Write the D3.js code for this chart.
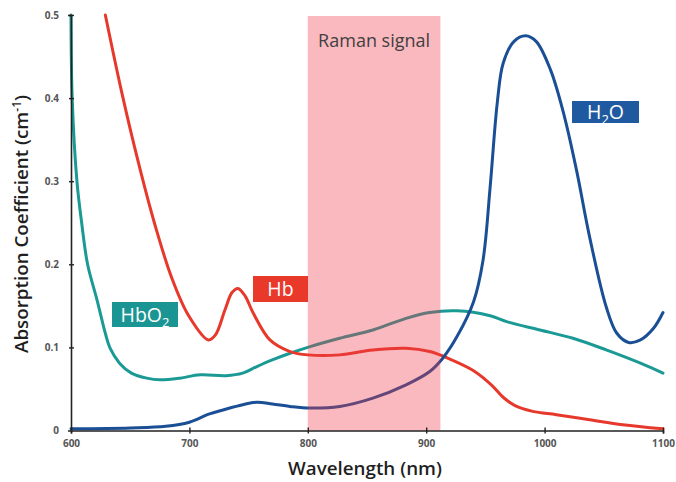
<!DOCTYPE html>
<html>
<head>
<meta charset="utf-8">
<script src="https://cdn.jsdelivr.net/npm/d3@7"></script>
<style>
  html, body { margin: 0; padding: 0; background: #fff; }
  svg { display: block; }
  text { font-family: "Open Sans", Lato, sans-serif; }
</style>
</head>
<body>
<svg id="chart" width="676" height="482"></svg>
<script>
// Absorption spectra (wavelength in nm, absorption coefficient in cm^-1)
const hbo2Wavelength = [600, 601, 605, 609, 614, 622, 629, 633, 641, 651, 664, 675, 692, 709, 731, 745, 757, 770, 785, 802, 827, 855, 883, 903, 926, 954, 968, 996, 1024, 1052, 1081, 1100];
const hbo2Absorption = [0.5, 0.4, 0.3, 0.25, 0.2, 0.157, 0.117, 0.099, 0.081, 0.069, 0.063, 0.061, 0.063, 0.067, 0.066, 0.069, 0.077, 0.085, 0.093, 0.101, 0.111, 0.121, 0.135, 0.142, 0.144, 0.138, 0.131, 0.121, 0.111, 0.097, 0.081, 0.069];

const hbWavelength = [629, 643, 657, 671, 685, 699, 716, 722, 730, 736, 741, 747, 754, 768, 785, 800, 827, 855, 883, 903, 920, 940, 955, 965, 975, 990, 1010, 1038, 1066, 1100];
const hbAbsorption = [0.5, 0.406, 0.322, 0.247, 0.184, 0.139, 0.109, 0.115, 0.145, 0.166, 0.171, 0.162, 0.141, 0.109, 0.095, 0.091, 0.091, 0.097, 0.099, 0.095, 0.086, 0.072, 0.055, 0.040, 0.030, 0.023, 0.019, 0.013, 0.007, 0.002];

const h2oWavelength = [600, 650, 680, 700, 717, 729, 745, 757, 770, 785, 802, 827, 855, 883, 903, 914, 926, 940, 948, 954, 960, 965, 974, 984, 993, 1005, 1016, 1027, 1038, 1052, 1061, 1071, 1081, 1092, 1100];
const h2oAbsorption = [0.002, 0.003, 0.005, 0.01, 0.02, 0.025, 0.031, 0.034, 0.032, 0.029, 0.027, 0.029, 0.039, 0.055, 0.071, 0.087, 0.113, 0.155, 0.205, 0.293, 0.394, 0.442, 0.468, 0.475, 0.468, 0.434, 0.382, 0.313, 0.233, 0.149, 0.117, 0.106, 0.109, 0.123, 0.142];

// Raman detection window (nm)
const ramanWindow = [800, 912];

const xTicks = [600, 700, 800, 900, 1000, 1100];
const yTicks = [0, 0.1, 0.2, 0.3, 0.4, 0.5];
const yTickLabels = ["0", "0.1", "0.2", "0.3", "0.4", "0.5"];

const svg = d3.select("#chart");

const x = d3.scaleLinear().domain([600, 1100]).range([71, 663]);
const y = d3.scaleLinear().domain([0, 0.5]).range([430.5, 15]);

const zip = (xs, ys) => xs.map((v, i) => [v, ys[i]]);
const line = d3.line()
  .x(d => x(d[0]))
  .y(d => y(d[1]))
  .curve(d3.curveCatmullRom.alpha(0.5));

const series = [
  { data: zip(hbo2Wavelength, hbo2Absorption), color: "#1b9a95" },
  { data: zip(hbWavelength, hbAbsorption), color: "#e6392c" },
  { data: zip(h2oWavelength, h2oAbsorption), color: "#1a4f96" }
];

svg.append("g").selectAll("path")
  .data(series)
  .join("path")
  .attr("d", d => line(d.data))
  .attr("fill", "none")
  .attr("stroke", d => d.color)
  .attr("stroke-width", 3)
  .attr("stroke-linejoin", "round")
  .attr("stroke-linecap", "round");

// translucent band marking the Raman window
svg.append("rect")
  .attr("x", x(ramanWindow[0]))
  .attr("y", y(0.5) + 1)
  .attr("width", x(ramanWindow[1]) - x(ramanWindow[0]))
  .attr("height", y(0) - y(0.5) - 1)
  .attr("fill", "#f13745")
  .attr("fill-opacity", 0.35);

svg.append("text")
  .attr("x", (x(ramanWindow[0]) + x(ramanWindow[1])) / 2)
  .attr("y", 47)
  .attr("text-anchor", "middle")
  .attr("font-size", 18)
  .attr("fill", "#404040")
  .text("Raman signal");

// axes
const xAxis = d3.axisBottom(x).tickValues(xTicks).tickFormat(d3.format("d")).tickSize(3).tickPadding(6);
const yAxis = d3.axisLeft(y).tickValues(yTicks).tickFormat((d, i) => yTickLabels[i]).tickSize(3).tickPadding(9);

const gx = svg.append("g").attr("transform", `translate(0,${y(0)})`).call(xAxis);
const gy = svg.append("g").attr("transform", `translate(${x(600)},0)`).call(yAxis);

[gx, gy].forEach(g => {
  g.select(".domain").attr("stroke", "#222").attr("stroke-width", 1.6);
  g.selectAll(".tick text")
    .attr("font-family", "Lato, sans-serif")
    .attr("font-size", 10)
    .attr("font-weight", "bold")
    .attr("fill", "#555");
  g.selectAll(".tick line").attr("stroke", "#222").attr("stroke-width", 1.4);
});
gx.selectAll(".tick line").attr("y1", -3).attr("y2", 3);
gy.selectAll(".tick line").attr("x1", -2).attr("x2", 3);
gy.selectAll(".tick").filter(d => d === 0).select("line").remove();

// axis titles
svg.append("text")
  .attr("x", 365)
  .attr("y", 475)
  .attr("text-anchor", "middle")
  .attr("font-size", 18.8)
  .attr("font-weight", 600)
  .attr("fill", "#1f1f1f")
  .text("Wavelength (nm)");

const yTitle = svg.append("text")
  .attr("transform", "translate(28,224) rotate(-90)")
  .attr("text-anchor", "middle")
  .attr("font-size", 18.8)
  .attr("font-weight", 600)
  .attr("fill", "#1f1f1f");
yTitle.append("tspan").text("Absorption Coefficient (cm");
yTitle.append("tspan").attr("font-size", 12).attr("dy", -7).text("-1");
yTitle.append("tspan").attr("dy", 7).text(")");

// series labels
const labels = [
  { x0: 112, y0: 302, x1: 178, y1: 327, fill: "#1b9593", parts: [["HbO", 0], ["2", 1]] },
  { x0: 253, y0: 276, x1: 308, y1: 302, fill: "#e8392b", parts: [["Hb", 0]] },
  { x0: 572, y0: 101, x1: 639, y1: 123, fill: "#1f5aa0", parts: [["H", 0], ["2", 1], ["O", 0]] }
];

labels.forEach(l => {
  svg.append("rect")
    .attr("x", l.x0).attr("y", l.y0)
    .attr("width", l.x1 - l.x0).attr("height", l.y1 - l.y0)
    .attr("fill", l.fill);
  const t = svg.append("text")
    .attr("x", (l.x0 + l.x1) / 2)
    .attr("y", (l.y0 + l.y1) / 2 + 7)
    .attr("text-anchor", "middle")
    .attr("font-size", 19.5)
    .attr("fill", "#fff");
  let sub = false;
  l.parts.forEach(([s, isSub]) => {
    const ts = t.append("tspan").text(s);
    if (isSub && !sub) { ts.attr("font-size", 13).attr("dy", 5); sub = true; }
    else if (!isSub && sub) { ts.attr("dy", -5); sub = false; }
  });
});
</script>
</body>
</html>
